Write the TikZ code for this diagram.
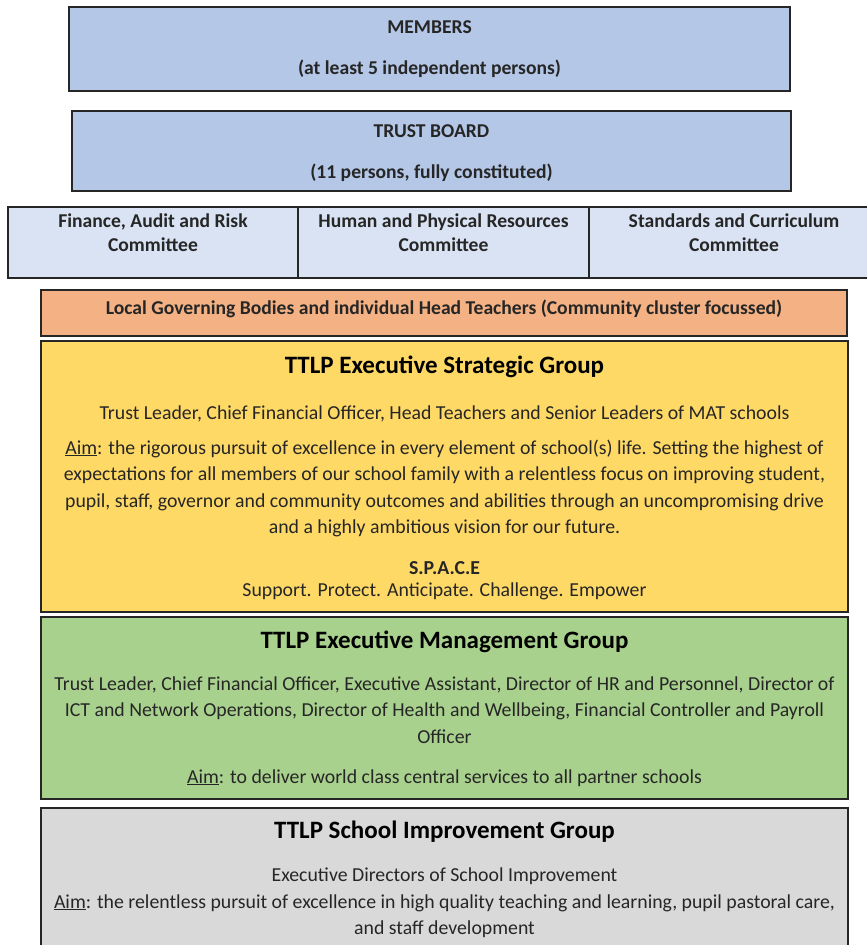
\documentclass[tikz,border=0pt]{standalone}
\usepackage{fontspec}
\setmainfont{Carlito}
\usetikzlibrary{fit}
\definecolor{ink}{HTML}{262626}
\definecolor{membblue}{HTML}{B4C7E7}
\definecolor{commblue}{HTML}{DAE3F3}
\definecolor{lgborange}{HTML}{F4B183}
\definecolor{stratgold}{HTML}{FFD966}
\definecolor{mgmtgreen}{HTML}{A9D18E}
\definecolor{impgray}{HTML}{D9D9D9}
\tikzset{
  tierbox/.style={draw=ink,line width=1.5pt,inner sep=0pt},
  headtxt/.style={anchor=base,inner sep=0pt,text=ink,align=center,
                  font=\fontsize{19.6}{24}\selectfont\bfseries},
  bodytxt/.style={anchor=base,inner sep=0pt,text=ink,align=center,
                  font=\fontsize{19.8}{26.5}\selectfont},
  titletxt/.style={anchor=base,inner sep=0pt,text=black,
                   font=\fontsize{25}{30}\selectfont\bfseries}
}
\begin{document}
\begin{tikzpicture}[x=1pt,y=-1pt]
  \fill[white] (0,0) rectangle (867,945);
  \useasboundingbox (0,0) rectangle (867,945);

  % governance tiers (multi-line texts sit on their last baseline)
  \node[tierbox,fill=membblue,fit={(69,7) (790,91)}] (members) {};
  \node[headtxt] (membersname) at (429.5,33) {MEMBERS};
  \node[headtxt] (membersnote) at (429.5,74) {(at least 5 independent persons)};

  \node[tierbox,fill=membblue,fit={(72,111) (791,191)}] (board) {};
  \node[headtxt] (boardname) at (431.5,137) {TRUST BOARD};
  \node[headtxt] (boardnote) at (431.5,178) {(11 persons, fully constituted)};

  % committee row, runs off the right edge
  \node[tierbox,fill=commblue,fit={(8,207) (298,278)}] (fin) {};
  \node[tierbox,fill=commblue,fit={(298,207) (589,278)}] (hum) {};
  \node[tierbox,fill=commblue,fit={(589,207) (879,278)}] (std) {};
  \node[headtxt] (finname) at (153,251) {Finance, Audit and Risk\\Committee};
  \node[headtxt] (humname) at (443.5,251) {Human and Physical Resources\\Committee};
  \node[headtxt] (stdname) at (734,251) {Standards and Curriculum\\Committee};

  \node[tierbox,fill=lgborange,fit={(41,290) (847,336)}] (lgb) {};
  \node[headtxt] (lgbname) at (444,314)
    {Local Governing Bodies and individual Head Teachers (Community cluster focussed)};

  % executive groups
  \node[tierbox,fill=stratgold,fit={(41,341) (848,612)}] (esg) {};
  \node[titletxt] (esgname) at (444.5,373) {TTLP Executive Strategic Group};
  \node[bodytxt] (esgwho) at (444.5,419)
    {Trust Leader, Chief Financial Officer, Head Teachers and Senior Leaders of MAT schools};
  \node[bodytxt] (esgaim) at (444.5,533.5)
    {\underline{Aim}: the rigorous pursuit of excellence in every element of school(s) life. Setting the highest of\\
     expectations for all members of our school family with a relentless focus on improving student,\\
     pupil, staff, governor and community outcomes and abilities through an uncompromising drive\\
     and a highly ambitious vision for our future.};
  \node[bodytxt,font=\fontsize{19.8}{26.5}\selectfont\bfseries] (space) at (444.5,574) {S.P.A.C.E};
  \node[bodytxt] (spaceword) at (444.5,596) {Support. Protect. Anticipate. Challenge. Empower};

  \node[tierbox,fill=mgmtgreen,fit={(41,617) (848,799)}] (emg) {};
  \node[titletxt] (emgname) at (444.5,648) {TTLP Executive Management Group};
  \node[bodytxt] (emgwho) at (444.5,743)
    {Trust Leader, Chief Financial Officer, Executive Assistant, Director of HR and Personnel, Director of\\
     ICT and Network Operations, Director of Health and Wellbeing, Financial Controller and Payroll\\
     Officer};
  \node[bodytxt] (emgaim) at (444.5,783)
    {\underline{Aim}: to deliver world class central services to all partner schools};

  \node[tierbox,fill=impgray,fit={(41,808) (848,960)}] (sig) {};
  \node[titletxt] (signame) at (444.5,838) {TTLP School Improvement Group};
  \node[bodytxt] (sigwho) at (444.5,881) {Executive Directors of School Improvement};
  \node[bodytxt] (sigaim) at (444.5,934.5)
    {\underline{Aim}: the relentless pursuit of excellence in high quality teaching and learning, pupil pastoral care,\\
     and staff development};
\end{tikzpicture}
\end{document}
